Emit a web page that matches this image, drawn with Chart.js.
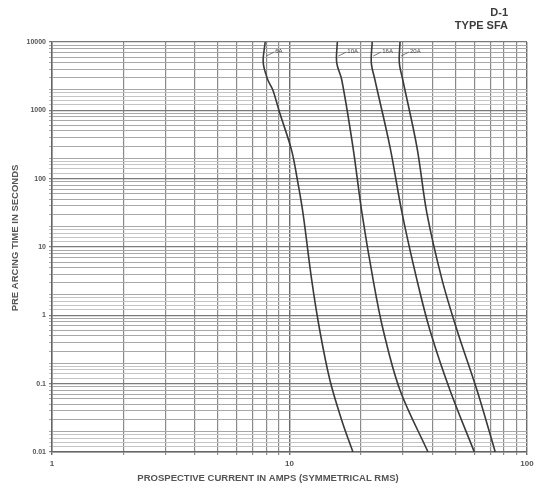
<!DOCTYPE html>
<html><head><meta charset="utf-8">
<script src="https://cdn.jsdelivr.net/npm/chart.js@4/dist/chart.umd.min.js"></script>
<style>html,body{margin:0;padding:0;background:#fff}canvas{display:block}</style>
</head><body>
<canvas id="c" width="539" height="492"></canvas>
<script>
// ---- data ----
const seriesNames = ['6A', '10A', '16A', '20A'];
const current6A  = [7.9, 7.75, 8.1, 8.5, 9.1, 10.2, 10.8, 11.4, 12.4, 13.4, 14.8, 16.6, 18.5];
const time6A     = [10000, 5000, 2800, 2000, 912, 262, 95, 31, 3.3, 0.61, 0.112, 0.029, 0.01];
const current10A = [15.9, 15.8, 16.6, 18.5, 20.2, 22.5, 24.8, 29.2, 38.3];
const time10A    = [10000, 5000, 2780, 290, 31, 3.3, 0.61, 0.080, 0.01];
const current16A = [22.3, 22.1, 22.9, 26.5, 29.8, 34.4, 39.0, 47.4, 60.0];
const time16A    = [10000, 5000, 2780, 290, 31, 3.3, 0.61, 0.080, 0.01];
const current20A = [29.2, 29.0, 30.0, 34.4, 37.9, 43.9, 50.7, 61.6, 73.5];
const time20A    = [10000, 5000, 2780, 290, 31, 3.3, 0.61, 0.080, 0.01];

const xTickValues = [1,2,3,4,5,6,7,8,9,10,20,30,40,50,60,70,80,90,100];
const xTickLabels = {1:'1', 10:'10', 100:'100'};
const yDecades = [0.01, 0.1, 1, 10, 100, 1000, 10000];
const yDecadeLabels = ['0.01', '0.1', '1', '10', '100', '1000', '10000'];
const yMinorMultipliers = [1.2, 1.4, 1.6, 1.8, 2, 3, 4, 5, 6, 7, 8, 9];

const titleLines = ['D-1', 'TYPE SFA'];
const xTitle = 'PROSPECTIVE CURRENT IN AMPS (SYMMETRICAL RMS)';
const yTitle = 'PRE ARCING TIME IN SECONDS';

// ---- build ----
const currents = [current6A, current10A, current16A, current20A];
const times = [time6A, time10A, time16A, time20A];
const yTickValues = [];
yDecades.forEach((d, i) => {
  yTickValues.push(d);
  if (i < yDecades.length - 1) yMinorMultipliers.forEach(m => yTickValues.push(+(d * m).toPrecision(6)));
});
const log10 = v => Math.log10(v);
const isDecade = v => Math.abs(log10(v) - Math.round(log10(v))) < 1e-6;
const mantissa = v => +(v / Math.pow(10, Math.floor(log10(v) + 1e-9))).toPrecision(4);

const datasets = seriesNames.map((n, i) => ({
  label: n,
  data: currents[i].map((c, j) => ({x: c, y: times[i][j]})),
  borderColor: '#3a3a3a',
  borderWidth: 1.6,
  pointRadius: 0,
  tension: 0.35,
  fill: false
}));

const textPlugin = {
  id: 'texts',
  afterDraw(chart) {
    const ctx = chart.ctx, xs = chart.scales.x, ys = chart.scales.y;
    ctx.save();
    ctx.fillStyle = '#3c3c3c';
    ctx.font = 'bold 11px "Liberation Sans", Arial, sans-serif';
    ctx.textAlign = 'right';
    ctx.textBaseline = 'middle';
    ctx.fillText(titleLines[0], 508, 13);
    ctx.fillText(titleLines[1], 508, 26);
    ctx.fillStyle = '#555';
    ctx.font = 'bold 9.5px "Liberation Sans", Arial, sans-serif';
    ctx.textAlign = 'center';
    ctx.fillText(xTitle, 268, 478);
    ctx.save();
    ctx.translate(15, 238);
    ctx.rotate(-Math.PI / 2);
    ctx.fillText(yTitle, 0, 0);
    ctx.restore();
    ctx.font = '6px "Liberation Sans", Arial, sans-serif';
    ctx.fillStyle = '#444';
    ctx.textAlign = 'left';
    seriesNames.forEach((n, i) => {
      const px = xs.getPixelForValue(currents[i][0]);
      const py = ys.getPixelForValue(times[i][0]);
      ctx.fillText(n, px + 10, py + 9);
      ctx.strokeStyle = '#555';
      ctx.lineWidth = 0.8;
      ctx.beginPath();
      ctx.moveTo(px + 1, py + 14);
      ctx.lineTo(px + 9, py + 10);
      ctx.stroke();
    });
    ctx.restore();
  }
};

new Chart(document.getElementById('c'), {
  type: 'line',
  data: {datasets},
  plugins: [textPlugin],
  options: {
    responsive: false,
    animation: false,
    layout: {padding: {top: 42, right: 12, left: 0, bottom: 0}},
    plugins: {legend: {display: false}, tooltip: {enabled: false}, title: {display: false}},
    scales: {
      x: {
        type: 'logarithmic', min: 1, max: 100,
        afterBuildTicks: s => { s.ticks = xTickValues.map(v => ({value: v})); },
        afterFit: s => { s.height = 40; },
        ticks: {
          autoSkip: false, maxRotation: 0, padding: 4,
          color: '#555', font: {size: 8, weight: 'bold'},
          callback: v => xTickLabels[v] || ''
        },
        grid: {
          color: c => (c.tick && isDecade(c.tick.value)) ? '#6a6a6a' : '#8a8a8a',
          lineWidth: c => (c.tick && isDecade(c.tick.value)) ? 1.4 : 1.2,
          tickLength: 3
        },
        border: {display: true, color: '#666', width: 1.4}
      },
      y: {
        type: 'logarithmic', min: 0.01, max: 10000,
        afterBuildTicks: s => { s.ticks = yTickValues.map(v => ({value: v})); },
        afterFit: s => { s.width = 52; },
        ticks: {
          autoSkip: false, padding: 3,
          color: '#555', font: {size: 7, weight: 'bold'},
          callback: v => { const k = yDecades.findIndex(d => Math.abs(d - v) / d < 1e-6); return k >= 0 ? yDecadeLabels[k] : ''; }
        },
        grid: {
          color: c => {
            if (!c.tick) return '#b4b4b4';
            if (isDecade(c.tick.value)) return '#7a7a7a';
            return mantissa(c.tick.value) < 2 ? '#c4c4c4' : '#a8a8a8';
          },
          lineWidth: c => (c.tick && isDecade(c.tick.value)) ? 1.3 : 1,
          tickLength: 3
        },
        border: {display: true, color: '#666', width: 1.4}
      }
    }
  }
});
</script>
</body></html>
